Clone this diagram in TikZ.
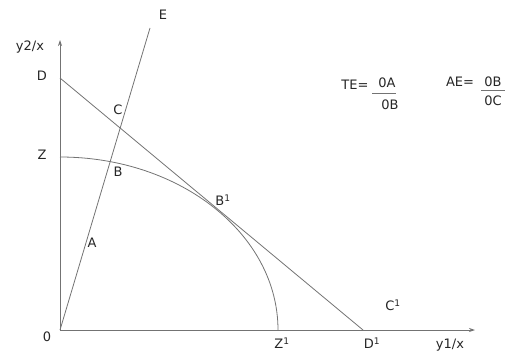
\documentclass[tikz,border=0pt]{standalone}
\usepackage{fontspec}
\setmainfont{DejaVu Sans}
\usetikzlibrary{arrows.meta}
\begin{document}
\begin{tikzpicture}[x=1pt,y=1pt,
  ln/.style={draw=black!55,line width=0.8pt},
  lbl/.style={inner sep=0pt,font=\fontsize{13}{15}\selectfont,text=black!85},
  ax/.style={ln,-{Stealth[length=6pt,width=4pt]}}]
\useasboundingbox (0,0) rectangle (505,354);
\coordinate (O) at (60,24);
\coordinate (Ytop) at (60,314);
\coordinate (Xend) at (475,24);
\coordinate (D) at (60,276);
\coordinate (Z) at (60,197);
\coordinate (Z1) at (278,24);
\coordinate (D1) at (363,24);
\coordinate (Et) at (150,326);
\draw[ax] (O) -- (Ytop);
\draw[ax] (O) -- (Xend);
\draw[ln] (D) -- (D1);
\draw[ln] (O) -- (Et);
\draw[ln] (Z) arc[start angle=90,end angle=0,x radius=218,y radius=173];
\node[lbl] (ly) at (30,307) {y2/x};
\node[lbl] (lD) at (42,278) {D};
\node[lbl] (lZ) at (42,199) {Z};
\node[lbl] (lC) at (118,244) {C};
\node[lbl] (lB) at (118,182) {B};
\node[lbl] (lA) at (92,111) {A};
\node[lbl] (lO) at (47,17) {0};
\node[lbl] (lZ1) at (282,11) {Z\textsuperscript{1}};
\node[lbl] (lD1) at (372,11) {D\textsuperscript{1}};
\node[lbl] (lx) at (450,9) {y1/x};
\node[lbl] (lC1) at (393,49) {C\textsuperscript{1}};
\node[lbl] (lE) at (163,339) {E};
\node[lbl] (lB1) at (223,154) {B\textsuperscript{1}};
\node[lbl] (te) at (355,269) {TE=};
\node[lbl] (tn) at (387,271) {0A};
\node[lbl] (td) at (390,249) {0B};
\coordinate (tl1) at (372,261);
\coordinate (tl2) at (396,261);
\draw[ln] (tl1) -- (tl2);
\node[lbl] (ae) at (460,272) {AE=};
\node[lbl] (an) at (493,272) {0B};
\node[lbl] (ad) at (493,253) {0C};
\coordinate (al1) at (481,264);
\coordinate (al2) at (505,264);
\draw[ln] (al1) -- (al2);
\end{tikzpicture}
\end{document}
